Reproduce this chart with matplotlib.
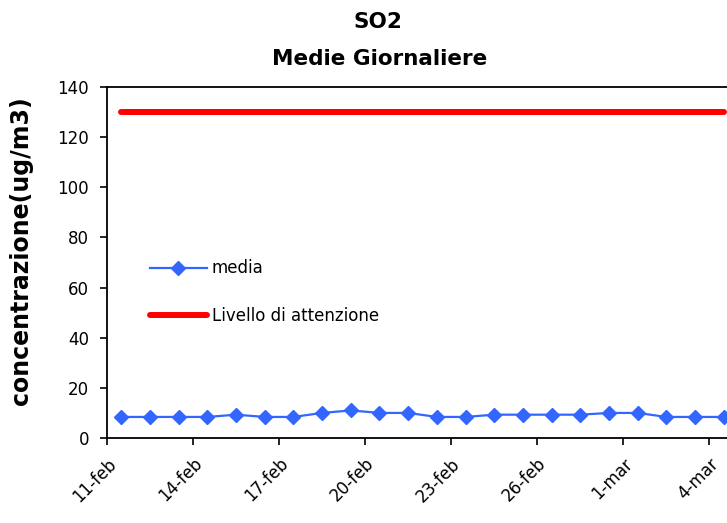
import matplotlib
matplotlib.use("Agg")
import matplotlib.pyplot as plt
import numpy as np

# data
days = ["11-feb", "12-feb", "13-feb", "14-feb", "15-feb", "16-feb", "17-feb", "18-feb",
        "19-feb", "20-feb", "21-feb", "22-feb", "23-feb", "24-feb", "25-feb", "26-feb",
        "27-feb", "28-feb", "1-mar", "2-mar", "3-mar", "4-mar"]
media = [8.4, 8.4, 8.4, 8.4, 9.3, 8.4, 8.4, 10.0, 11.0, 10.0, 10.0,
         8.4, 8.4, 9.3, 9.3, 9.3, 9.3, 10.0, 10.0, 8.4, 8.4, 8.4]
attenzione = [130] * len(days)
tick_labels = ["11-feb", "14-feb", "17-feb", "20-feb", "23-feb", "26-feb", "1-mar", "4-mar"]
y_ticks = [0, 20, 40, 60, 80, 100, 120, 140]

plt.rcParams['font.family'] = ['DejaVu Sans']

W, H = 727, 523
fig = plt.figure(figsize=(W / 100, H / 100), dpi=100)
ax = fig.add_axes([107 / W, 1 - 438 / H, 631 / W, (438 - 87) / H])

x = np.arange(len(days))
ax.plot(x, media, color='#3366FF', lw=1.6, marker='D', markersize=6.8,
        markeredgecolor='#3366FF', markerfacecolor='#3366FF', label='media', zorder=3)
ax.plot(x, attenzione, color='#FF0000', lw=4.3, solid_capstyle='round',
        label='Livello di attenzione', zorder=2)

ax.set_xlim(-0.5, 21.5)
ax.set_ylim(0, 140)
tick_pos = [days.index(t) - 0.5 for t in tick_labels]
ax.set_xticks(tick_pos)
ax.set_xticklabels(tick_labels, rotation=45, ha='right', va='top',
                   rotation_mode='anchor', fontsize=12)
ax.set_yticks(y_ticks)
ax.set_yticklabels([str(v) for v in y_ticks], fontsize=12)
ax.tick_params(axis='both', direction='out', length=5, width=1.2, colors='black')
ax.tick_params(axis='x', pad=7)
ax.tick_params(axis='y', pad=8)
for s in ['left', 'bottom', 'top']:
    ax.spines[s].set_linewidth(1.3)
ax.spines['right'].set_visible(False)

ax.set_ylabel('concentrazione(ug/m3)', fontsize=17, fontweight='bold')
ax.yaxis.set_label_coords(-0.117, 0.533)

fig.text(378 / W, 1 - 22 / H, 'SO2', ha='center', va='center', fontsize=15.5, fontweight='bold')
fig.text(380 / W, 1 - 59 / H, 'Medie Giornaliere', ha='center', va='center',
         fontsize=15.5, fontweight='bold')

leg = ax.legend(loc='center left', bbox_to_anchor=(150 / W, 1 - 292 / H),
                bbox_transform=fig.transFigure, frameon=False, fontsize=12,
                handlelength=3.4, handletextpad=0.3, labelspacing=1.75,
                borderpad=0, borderaxespad=0)

fig.savefig('out.png', dpi=100)
